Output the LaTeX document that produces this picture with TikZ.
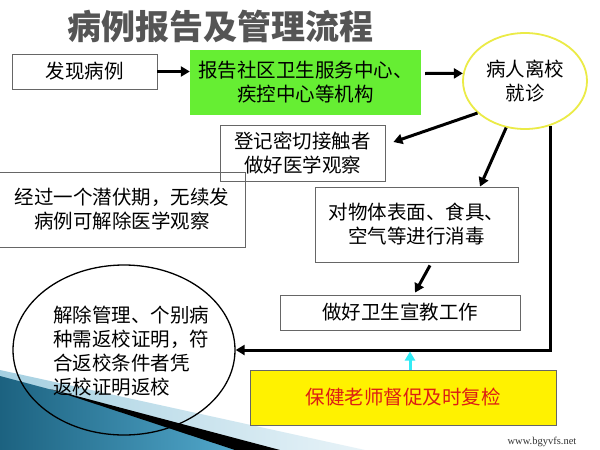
\documentclass[tikz,border=0pt]{standalone}
\usepackage{fontspec}
\newfontfamily\cjk{Noto Sans CJK SC}
\newfontfamily\wmfont{Liberation Serif}
\usetikzlibrary{shapes.geometric,arrows.meta,calc}
\definecolor{greenfill}{RGB}{102,238,51}
\definecolor{circleyellow}{RGB}{235,235,70}
\definecolor{redtext}{RGB}{220,30,20}
\definecolor{cyanarrow}{RGB}{50,235,245}
\definecolor{titlegray}{RGB}{85,85,85}
\definecolor{tealdark}{RGB}{28,98,128}
\definecolor{teallight}{RGB}{85,172,208}
\definecolor{paleblue}{RGB}{165,208,225}
\definecolor{paleend}{RGB}{232,243,248}
\begin{document}
\begin{tikzpicture}[x=1pt,y=-1pt,
  txt/.style={font=\cjk\fontsize{19.5}{24}\selectfont, align=center, inner sep=0pt},
  box/.style={txt, draw=black!60, line width=0.8pt},
  arr/.style={line width=3pt, -{Triangle[length=9pt,width=10pt]}},
]
\useasboundingbox (0,0) rectangle (600,450);
\fill[white] (0,0) rectangle (600,450);

% decorative corner
\shade[left color=paleblue, right color=paleend] (0,370) -- (365,450) -- (0,450) -- cycle;
\shade[left color=tealdark, right color=teallight] (0,376) -- (60,392) -- (250,450) -- (0,450) -- cycle;
\fill[black] (50,389) -- (280,450) -- (235,450) -- cycle;

% title
\node[font=\cjk\bfseries\fontsize{34}{34}\selectfont, text=titlegray] (title) at (220,26) {病例报告及管理流程};

% nodes
\node[box, minimum width=145pt, minimum height=35pt] (find) at (84.5,71.5) {发现病例};
\node[txt, fill=greenfill, minimum width=231pt, minimum height=65pt] (report) at (305.5,82.5) {报告社区卫生服务中心、\\疾控中心等机构};
\node[txt, ellipse, draw=circleyellow, line width=1.8pt, minimum width=124pt, minimum height=96pt] (visit) at (525,81) {病人离校\\就诊};
\node[box, minimum width=165pt, minimum height=56pt] (register) at (302.5,153) {登记密切接触者\\做好医学观察};
\node[box, minimum width=247pt, minimum height=75pt] (expire) at (122,209.5) {经过一个潜伏期，无续发\\病例可解除医学观察};
\node[box, minimum width=203pt, minimum height=75pt] (disinfect) at (416.5,224.5) {对物体表面、食具、\\空气等进行消毒};
\node[box, minimum width=240pt, minimum height=35pt] (educate) at (400,312.5) {做好卫生宣教工作};
\node[box, fill=yellow, text=redtext, minimum width=306pt, minimum height=55pt] (check) at (403,397.5) {保健老师督促及时复检};
\node[ellipse, draw=black, line width=1.3pt, minimum width=222pt, minimum height=170pt] (release) at (124,350) {};
\node[txt, align=left] (releasetext) at (131,351) {解除管理、个别病\\种需返校证明，符\\合返校条件者凭\\返校证明返校};

% watermark
\node[font=\wmfont\fontsize{10.5}{12}\selectfont, text=black!80] (wm) at (542,442) {www.bgyvfs.net};

% connectors
\draw[arr] (find.east) -- (find.east -| report.west);
\draw[arr] ([xshift=4pt,yshift=9pt]report.east) -- (visit.173);
\draw[arr] (visit.214) -- ([xshift=8pt,yshift=11pt]register.east);
\draw[arr] (visit.248) -- ([xshift=63.5pt]disinfect.north);
\draw[arr] ([xshift=13.5pt,yshift=-3pt]disinfect.south) -- ([xshift=15pt,yshift=2pt]educate.north);
\draw[arr] (visit.-60) |- (release.east);
\draw[arr, color=cyanarrow, shorten >=1.5pt] ([xshift=7pt]check.north) -- ([xshift=7pt]check.north |- release.east);
\end{tikzpicture}
\end{document}
